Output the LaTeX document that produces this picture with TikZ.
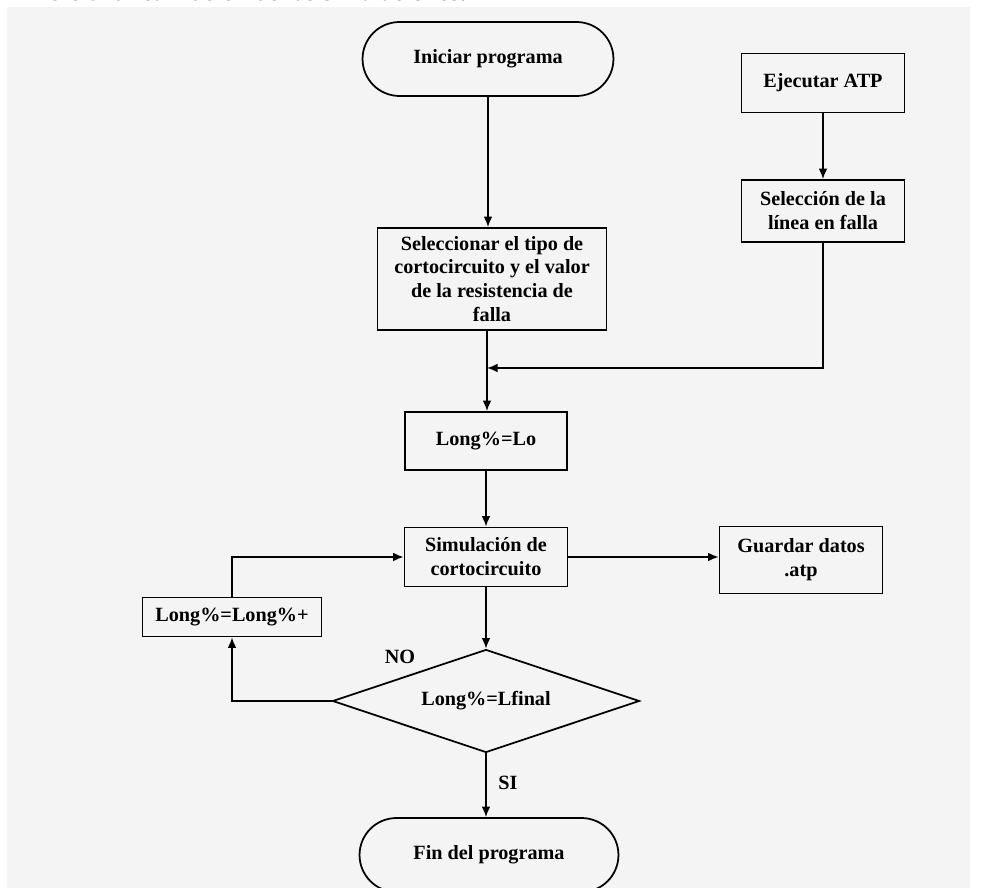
\documentclass[tikz,border=0pt]{standalone}
\usepackage{fontspec}
\setmainfont{Liberation Serif}
\usetikzlibrary{shapes.misc,shapes.geometric,arrows.meta}
\definecolor{panel}{HTML}{F4F4F4}

\begin{document}
\begin{tikzpicture}[x=0.02cm, y=-0.02cm,
    txt/.style={font=\fontsize{11.5}{13.6}\selectfont\bfseries},
    box/.style={txt, draw, line width=1pt, align=center, inner sep=2pt},
    term/.style={box, rounded rectangle},
    flow/.style={line width=1pt, -{Latex[length=6pt,width=5pt]}}]
    % Page and grey panel
    \useasboundingbox (0,0) rectangle (995,888);
    \clip (0,0) rectangle (995,888);
    \fill[white] (0,0) rectangle (995,888);
    \fill[panel] (7,7) rectangle (970,888);

    % Line of text cut off above the panel
    \node[anchor=base west, inner sep=0pt, font=\fontsize{15}{17}\selectfont] (titulo) at (-3,1)
        {Primero a la realización de las simulaciones.};

    % Main column
    \node[term, minimum width=5.16cm, minimum height=1.48cm] (ini) at (488,59) {Iniciar programa};
    \node[box, minimum width=4.58cm, minimum height=2.04cm] (tipo) at (492,279)
        {Seleccionar el tipo de\\cortocircuito y el valor\\de la resistencia de\\falla};
    \coordinate (join) at (487,368);
    \node[box, minimum width=3.24cm, minimum height=1.16cm] (lo) at (486,441) {Long\%=Lo};
    \node[box, minimum width=3.26cm, minimum height=1.18cm] (sim) at (486,557)
        {Simulación de\\cortocircuito};
    \node[txt, draw, line width=1pt, diamond, inner sep=0pt, shape aspect=3,
          minimum width=6.14cm, minimum height=2.06cm] (dec) at (486,701) {Long\%=Lfinal};
    \node[term, minimum width=5.32cm, minimum height=1.48cm] (fin) at (489,855) {Fin del programa};

    % Right branch
    \node[box, minimum width=3.26cm, minimum height=1.18cm] (atp) at (823,83) {Ejecutar ATP};
    \node[box, minimum width=3.26cm, minimum height=1.24cm] (linea) at (823,211)
        {Selección de la\\línea en falla};
    \node[box, minimum width=3.26cm, minimum height=1.34cm] (guardar) at (801,560)
        {Guardar datos\\.atp};

    % Loop box
    \node[box, minimum width=3.58cm, minimum height=0.78cm] (incr) at (232,617) {Long\%=Long\%+};

    % Labels on the decision
    \node[txt] (no) at (400,657) {NO};
    \node[txt] (si) at (508,783) {SI};

    % Connectors
    \draw[flow] (ini.south) -- (ini.south |- tipo.north);
    \draw[flow] (atp) -- (linea);
    \draw[flow] (join |- tipo.south) -- (join |- lo.north);
    \draw[flow] (linea.south) |- (join);
    \draw[flow] (lo) -- (sim);
    \draw[flow] (sim.east) -- (sim.east -| guardar.west);
    \draw[flow] (sim) -- (dec);
    \draw[flow] (dec.west) -| (incr.south);
    \draw[flow] (incr.north) |- (sim.west);
    \draw[flow] (dec.south) -- (dec.south |- fin.north);
\end{tikzpicture}
\end{document}
